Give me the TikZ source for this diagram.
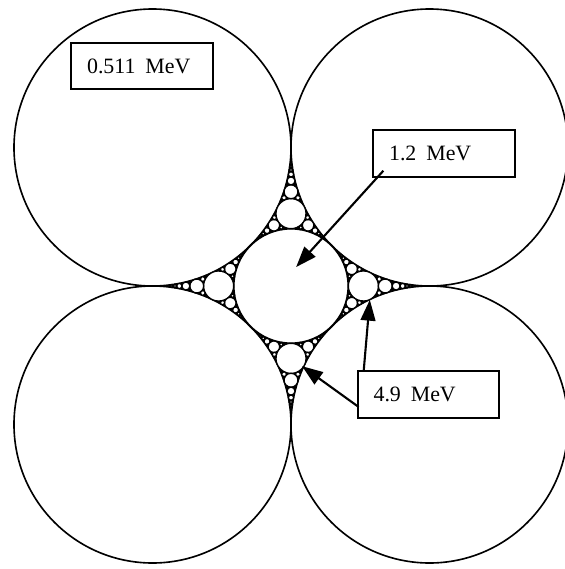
\documentclass[tikz,border=0pt]{standalone}
\usepackage{fontspec}
\setmainfont{Liberation Serif}
\usetikzlibrary{arrows.meta}

\begin{document}
\begin{tikzpicture}
  [x=3cm,y=3cm,
   ball/.style={circle,draw,fill=white,line width=1pt,inner sep=0pt},
   pack/.style={draw,fill=white,line width=0.75pt},
   tag/.style={draw,line width=1.3pt,text width=2.38cm,inner xsep=0.34cm,
     minimum height=1cm,align=left,font=\fontsize{13.5}{16}\selectfont},
   arr/.style={line width=1.3pt,-{Triangle[length=0.45cm,width=0.32cm]}}]
  \useasboundingbox (-2.1011,-2.0433) rectangle (1.9711,2.0650);

  % black gaps, then the four big balls and the middle one
  \fill (0,1) -- (1,0) -- (0,-1) -- (-1,0) -- cycle;
  \node[ball,minimum size=6cm] (tl) at (-1,1) {};
  \node[ball,minimum size=6cm] (tr) at (1,1) {};
  \node[ball,minimum size=6cm] (bl) at (-1,-1) {};
  \node[ball,minimum size=6cm] (br) at (1,-1) {};
  \node[ball,minimum size=2.4853cm,line width=1.2pt] (cc) at (0,0) {};

  % packing of one gap, mirrored and turned into the other three
  \foreach \ang in {0,90,180,270}
    \foreach \sx in {1,-1}
      \foreach \x/\y/\r in {0/0.522408/0.108194, 0/0.680425/0.049823,
          0/0.758907/0.028654, 0/0.806165/0.018612, 0/0.837843/0.013062,
          0/0.860577/0.009673, 0/0.877704/0.007451,
          -0.123388/0.438306/0.041129, -0.173111/0.4/0.021639,
          -0.200157/0.377814/0.013344, -0.217199/0.363287/0.009050,
          -0.228935/0.353020/0.006541, -0.119943/0.494322/0.014993,
          -0.070481/0.422471/0.014096, -0.050312/0.636790/0.016771,
          -0.027041/0.732681/0.009014, -0.066851/0.617882/0.008356,
          -0.052578/0.660035/0.006572, -0.170649/0.428644/0.007110,
          -0.144945/0.395385/0.006902, -0.115769/0.516648/0.007718,
          -0.049687/0.418372/0.007098}
        \draw[pack,rotate=\ang] (\sx*\x,\y) circle[radius=\r];

  \coordinate (abot) at (0,-0.522408);
  \coordinate (aright) at (0.522408,0);

  \node[tag] (lo) at (-1.0758,1.5885) {\mbox{0.511\hspace{0.45em}MeV}};
  \node[tag] (mid) at (1.1047,0.9567) {\mbox{1.2\hspace{0.45em}MeV}};
  \node[tag] (hi) at (0.9928,-0.7834) {\mbox{4.9\hspace{0.45em}MeV}};

  \draw[arr] ([xshift=0.24cm,yshift=0.15cm]mid.south west) -- ([xshift=0.11cm,yshift=0.41cm]cc.center);
  \draw[arr] ([xshift=0.04cm,yshift=-0.27cm]hi.west) -- ([xshift=0.24cm,yshift=-0.17cm]abot);
  \draw[arr] ([xshift=0.15cm]hi.north west) -- ([xshift=0.14cm,yshift=-0.3cm]aright);

\end{tikzpicture}
\end{document}
